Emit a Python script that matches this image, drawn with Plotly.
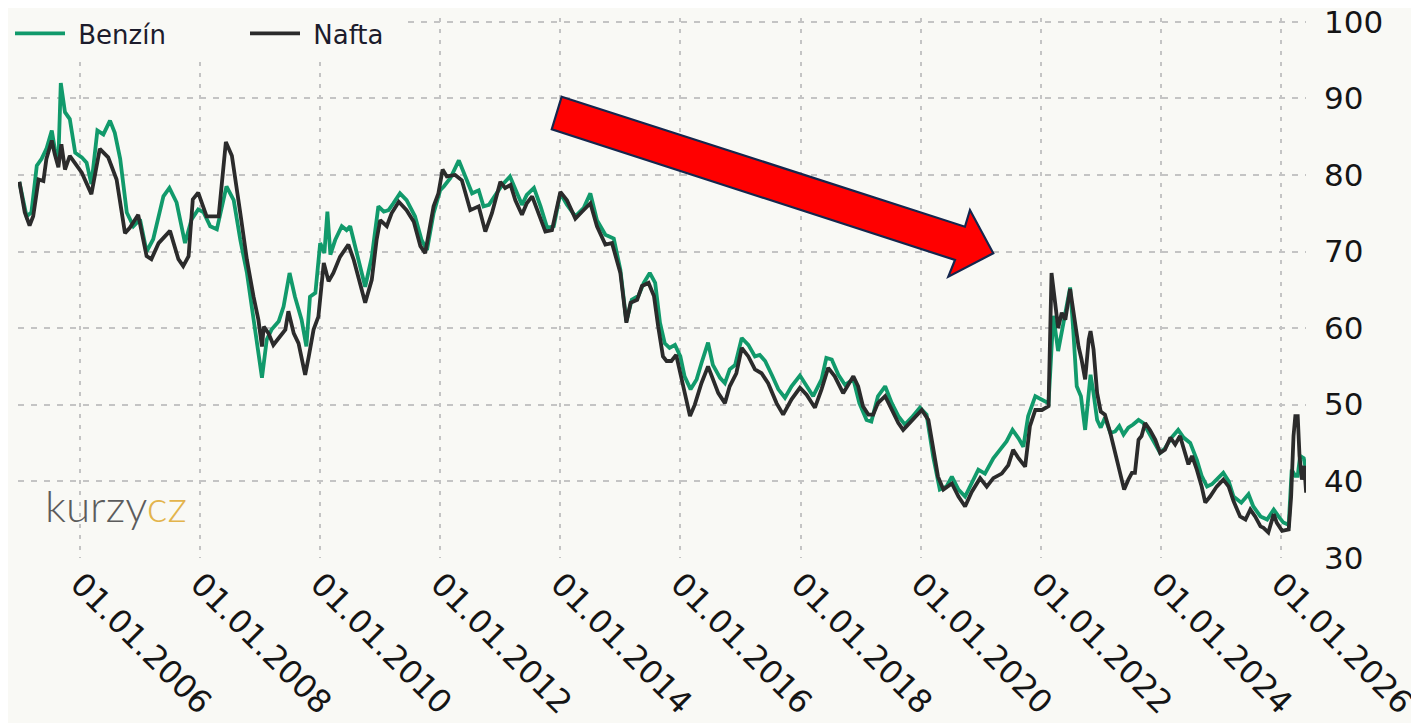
import plotly.graph_objects as go
from datetime import datetime

# ---------------- data (decimal years) ----------------
nafta_t = [
    2004.99, 2005.08, 2005.16, 2005.22, 2005.31, 2005.39, 2005.44, 2005.53, 2005.58, 2005.64, 2005.69, 2005.75, 2005.83, 2005.94,
    2006.03, 2006.19, 2006.33, 2006.47, 2006.61, 2006.75, 2006.83, 2006.97,
    2007.11, 2007.19, 2007.31, 2007.50, 2007.64, 2007.72, 2007.81, 2007.88, 2007.97,
    2008.11, 2008.31, 2008.43, 2008.53, 2008.67, 2008.78, 2008.89, 2008.97,
    2009.03, 2009.06, 2009.14, 2009.22, 2009.33, 2009.42, 2009.47, 2009.56, 2009.64, 2009.75, 2009.81, 2009.89, 2009.97,
    2010.06, 2010.14, 2010.22, 2010.33, 2010.47, 2010.56, 2010.67, 2010.75, 2010.86, 2010.94,
    2011.00, 2011.11, 2011.19, 2011.31, 2011.44, 2011.56, 2011.67, 2011.75, 2011.89, 2011.97,
    2012.04, 2012.11, 2012.25, 2012.36, 2012.50, 2012.64, 2012.75, 2012.86,
    2013.00, 2013.08, 2013.17, 2013.25, 2013.36, 2013.44, 2013.53, 2013.64, 2013.75, 2013.86,
    2014.00, 2014.11, 2014.25, 2014.36, 2014.50, 2014.61, 2014.75, 2014.86,
    2015.00, 2015.10, 2015.17, 2015.28, 2015.36, 2015.47, 2015.56, 2015.63, 2015.71, 2015.77, 2015.85, 2015.93,
    2016.04, 2016.16, 2016.24, 2016.35, 2016.46, 2016.54, 2016.63, 2016.74, 2016.82, 2016.93,
    2017.02, 2017.13, 2017.24, 2017.35, 2017.46, 2017.60, 2017.71, 2017.85, 2017.99,
    2018.10, 2018.24, 2018.35, 2018.46, 2018.57, 2018.71, 2018.88, 2018.96,
    2019.04, 2019.13, 2019.21, 2019.29, 2019.41, 2019.52, 2019.63, 2019.71, 2019.82, 2019.93,
    2020.02, 2020.13, 2020.21, 2020.29, 2020.38, 2020.52, 2020.63, 2020.74, 2020.85, 2020.99,
    2021.10, 2021.21, 2021.35, 2021.46, 2021.54, 2021.63, 2021.74, 2021.82, 2021.91,
    2022.02, 2022.13, 2022.18, 2022.24, 2022.29, 2022.35, 2022.41, 2022.49, 2022.57, 2022.63, 2022.68, 2022.74, 2022.80, 2022.83, 2022.88, 2022.94,
    2023.00, 2023.07, 2023.16, 2023.24, 2023.32, 2023.39, 2023.46, 2023.52, 2023.57, 2023.63, 2023.68, 2023.74, 2023.82, 2023.91, 2023.99,
    2024.07, 2024.16, 2024.24, 2024.32, 2024.41, 2024.46, 2024.52, 2024.60, 2024.68, 2024.74, 2024.82, 2024.93,
    2025.04, 2025.13, 2025.21, 2025.32, 2025.41, 2025.49, 2025.57, 2025.66, 2025.71, 2025.79, 2025.88, 2025.93,
    2026.02, 2026.13, 2026.17, 2026.21, 2026.24, 2026.28, 2026.31, 2026.35, 2026.39, 2026.42,
]
nafta_v = [
    79.1, 75.1, 73.4, 74.6, 79.4, 79.2, 82.1, 84.5, 82.7, 81.0, 84.0, 80.7, 82.5, 81.2,
    80.3, 77.5, 83.4, 82.3, 79.4, 72.4, 73.1, 74.8,
    69.4, 69.0, 71.1, 72.7, 69.0, 68.1, 69.4, 76.8, 77.7,
    74.6, 74.6, 84.3, 82.5, 75.0, 68.9, 64.1, 61.1,
    57.6, 60.2, 59.3, 57.8, 58.9, 59.8, 62.2, 59.3, 58.0, 53.9, 56.3, 59.8, 61.5,
    68.5, 66.1, 67.2, 69.3, 70.9, 68.9, 65.9, 63.3, 66.3, 71.5,
    74.1, 73.3, 75.0, 76.5, 75.4, 73.9, 70.7, 69.8, 75.9, 77.6,
    80.7, 79.8, 80.0, 79.3, 75.4, 75.9, 72.6, 75.0,
    79.1, 78.3, 78.7, 76.7, 74.8, 76.3, 77.2, 75.0, 72.6, 72.8,
    77.8, 76.7, 74.3, 75.2, 76.3, 73.3, 70.9, 71.1,
    67.2, 60.7, 63.3, 63.7, 65.5, 65.9, 64.2, 60.2, 56.3, 55.7, 55.7, 56.5,
    52.4, 48.5, 50.0, 52.8, 55.0, 53.3, 51.5, 50.2, 52.4, 54.1,
    57.4, 56.3, 54.6, 54.1, 52.8, 50.2, 48.7, 50.7, 52.2,
    51.3, 49.6, 52.0, 54.8, 53.7, 51.5, 53.7, 52.4,
    49.8, 48.7, 48.7, 50.2, 51.1, 49.3, 47.6, 46.7, 47.6, 48.5,
    49.3, 48.0, 44.1, 40.6, 38.9, 39.7, 38.0, 36.7, 38.6, 40.4,
    39.3, 40.4, 41.0, 42.1, 44.1, 43.0, 41.9, 47.2, 49.3,
    49.3, 49.8, 67.2, 63.3, 60.0, 62.0, 61.1, 65.1, 61.0, 57.6, 55.9, 53.3, 58.5, 59.6, 57.2, 51.5,
    49.1, 48.7, 46.3, 43.7, 41.1, 38.9, 40.2, 41.1, 41.1, 45.4, 45.9, 47.6, 46.7, 45.4, 43.7,
    44.1, 45.7, 44.8, 45.9, 43.3, 42.2, 43.3, 41.5, 39.3, 37.2, 38.0, 39.3,
    40.2, 39.3, 37.4, 35.4, 35.0, 36.3, 35.4, 34.1, 33.9, 33.3, 35.7, 34.6,
    33.5, 33.7, 38.0, 45.9, 48.5, 48.5, 43.3, 40.2, 42.0, 38.5,
]

benzin_t = [
    2004.99, 2005.11, 2005.19, 2005.28, 2005.36, 2005.44, 2005.53, 2005.58, 2005.64, 2005.68, 2005.75, 2005.83, 2005.92,
    2006.03, 2006.11, 2006.19, 2006.29, 2006.39, 2006.50, 2006.58, 2006.67, 2006.78, 2006.89,
    2007.00, 2007.11, 2007.22, 2007.39, 2007.49, 2007.61, 2007.75, 2007.86, 2007.97,
    2008.06, 2008.17, 2008.28, 2008.44, 2008.56, 2008.67, 2008.78, 2008.89, 2008.97,
    2009.03, 2009.11, 2009.19, 2009.31, 2009.39, 2009.49, 2009.58, 2009.69, 2009.77, 2009.83, 2009.92,
    2010.00, 2010.07, 2010.12, 2010.17, 2010.25, 2010.36, 2010.44, 2010.50, 2010.61, 2010.75, 2010.86, 2010.97,
    2011.06, 2011.14, 2011.22, 2011.33, 2011.44, 2011.58, 2011.69, 2011.78, 2011.89,
    2012.00, 2012.06, 2012.17, 2012.31, 2012.42, 2012.53, 2012.64, 2012.72, 2012.81, 2012.92,
    2013.03, 2013.16, 2013.25, 2013.36, 2013.44, 2013.56, 2013.67, 2013.78, 2013.89,
    2014.00, 2014.11, 2014.25, 2014.39, 2014.50, 2014.61, 2014.75, 2014.89,
    2015.00, 2015.10, 2015.19, 2015.30, 2015.39, 2015.49, 2015.58, 2015.66, 2015.74, 2015.82, 2015.91,
    2016.00, 2016.07, 2016.17, 2016.27, 2016.35, 2016.46, 2016.54, 2016.66, 2016.74, 2016.82, 2016.91,
    2017.02, 2017.13, 2017.24, 2017.32, 2017.41, 2017.52, 2017.63, 2017.74, 2017.85, 2017.99,
    2018.10, 2018.21, 2018.35, 2018.43, 2018.52, 2018.63, 2018.74, 2018.88, 2018.98,
    2019.10, 2019.18, 2019.29, 2019.41, 2019.52, 2019.63, 2019.74, 2019.85, 2019.99,
    2020.10, 2020.21, 2020.32, 2020.43, 2020.52, 2020.63, 2020.74, 2020.85, 2020.96,
    2021.07, 2021.21, 2021.32, 2021.43, 2021.53, 2021.63, 2021.71, 2021.79, 2021.91,
    2022.02, 2022.13, 2022.21, 2022.26, 2022.29, 2022.38, 2022.49, 2022.54, 2022.60, 2022.67, 2022.74, 2022.80, 2022.83, 2022.88, 2022.94,
    2023.00, 2023.07, 2023.16, 2023.24, 2023.31, 2023.38, 2023.46, 2023.54, 2023.63, 2023.71, 2023.79, 2023.88, 2023.99,
    2024.07, 2024.18, 2024.29, 2024.38, 2024.49, 2024.60, 2024.68, 2024.77, 2024.85, 2024.96,
    2025.04, 2025.13, 2025.21, 2025.34, 2025.46, 2025.54, 2025.66, 2025.77, 2025.88, 2025.96,
    2026.04, 2026.13, 2026.18, 2026.24, 2026.28, 2026.32, 2026.38, 2026.42,
]
benzin_v = [
    79.1, 74.6, 75.1, 81.2, 82.1, 83.4, 85.8, 83.4, 82.1, 92.0, 88.2, 87.3, 82.9,
    82.3, 81.6, 78.8, 85.8, 85.3, 87.1, 85.5, 82.1, 75.1, 73.3,
    74.2, 70.0, 71.6, 77.2, 78.3, 76.4, 71.1, 74.2, 75.5,
    75.1, 73.3, 72.9, 78.5, 76.7, 71.5, 67.2, 61.1, 56.7,
    53.5, 58.5, 59.8, 60.9, 62.8, 67.2, 64.1, 61.1, 57.6, 64.1, 64.6,
    71.1, 69.8, 75.2, 69.6, 71.5, 73.3, 72.8, 73.3, 69.8, 65.4, 69.3, 75.9,
    75.2, 75.4, 76.3, 77.6, 76.7, 74.6, 71.5, 70.2, 75.0,
    78.0, 78.5, 79.6, 81.9, 79.8, 77.6, 78.0, 75.9, 76.1, 77.4,
    78.7, 79.8, 78.0, 76.1, 77.4, 78.3, 75.9, 73.1, 73.3,
    77.6, 76.1, 74.6, 75.7, 77.6, 74.1, 72.2, 71.7,
    67.6, 60.9, 63.7, 64.2, 65.9, 67.2, 65.9, 60.7, 58.0, 57.4, 57.8,
    56.3, 53.7, 52.0, 53.3, 55.4, 58.1, 55.2, 53.5, 52.8, 54.6, 55.2,
    58.7, 57.8, 56.3, 56.5, 55.7, 53.9, 52.0, 50.9, 52.4, 53.8,
    52.4, 51.1, 53.3, 56.1, 55.9, 53.9, 52.6, 53.3, 50.2,
    48.0, 47.8, 51.1, 52.4, 50.2, 48.5, 47.4, 48.3, 49.6,
    48.7, 43.2, 38.9, 39.3, 40.6, 38.9, 38.0, 39.7, 41.5,
    41.0, 43.0, 44.1, 45.2, 46.7, 45.6, 44.5, 48.5, 51.1,
    50.7, 50.2, 61.6, 59.0, 57.0, 60.7, 65.3, 60.0, 52.4, 51.1, 46.7, 51.5, 53.9, 51.5, 48.0,
    47.0, 48.3, 46.3, 46.5, 47.2, 46.1, 47.0, 47.4, 48.0, 47.6, 46.5, 45.2, 43.7,
    44.3, 45.7, 46.7, 45.7, 45.0, 42.8, 40.7, 39.3, 39.6, 40.4,
    41.1, 40.0, 38.0, 37.2, 38.3, 36.7, 35.4, 35.0, 36.3, 35.4,
    34.6, 34.3, 41.5, 40.7, 40.7, 43.3, 43.0, 41.5,
]

tick_years = [2006, 2008, 2010, 2012, 2014, 2016, 2018, 2020, 2022, 2024, 2026]
y_ticks = [30, 40, 50, 60, 70, 80, 90, 100]
x_range_years = [2004.967, 2026.418]
y_range = [29.97, 100.5]


def to_date(y):
    yr = int(y)
    start = datetime(yr, 1, 1)
    end = datetime(yr + 1, 1, 1)
    return start + (end - start) * (y - yr)


BG = "#f9f9f5"
GREEN = "#119a6b"
DARK = "#2b2b2b"
GRID = "#c4c4c4"
TXT = "#151515"
FONT = "DejaVu Sans"
NBSP = "\u00a0"

fig = go.Figure()
fig.add_trace(go.Scatter(
    x=[to_date(t) for t in benzin_t], y=benzin_v, name=NBSP + "Benzín",
    mode="lines", line=dict(color=GREEN, width=3.8), legendwidth=170))
fig.add_trace(go.Scatter(
    x=[to_date(t) for t in nafta_t], y=nafta_v, name=NBSP + "Nafta",
    mode="lines", line=dict(color=DARK, width=3.8), legendwidth=95))

# page body has an 8px margin; plot area in window pixels: x 18..1306, y 18..558
OFF = 8
def px(xp, yp):
    return (xp - 18) / 1288.0, (558 - yp) / 540.0

arrow_px = [(561.7, 96.7), (965, 226.7), (970, 210), (993.3, 253.3),
            (948.3, 276.7), (955, 260), (551.7, 129.3)]
pts = [px(a, b) for a, b in arrow_px]
path = "M " + " L ".join(f"{x:.4f},{y:.4f}" for x, y in pts) + " Z"

fig.update_layout(
    width=1419, height=723,
    margin=dict(l=18 - OFF, r=1419 - 1306 + OFF, t=18 - OFF, b=723 - 558 + OFF, autoexpand=False),
    paper_bgcolor=BG, plot_bgcolor="rgba(0,0,0,0)",
    showlegend=True,
    legend=dict(orientation="h", x=px(10, 0)[0], y=px(0, 10)[1], xanchor="left", yanchor="top",
                bgcolor=BG, font=dict(family=FONT, size=26, color="#1c1c2c"),
                itemwidth=50, traceorder="normal"),
    xaxis=dict(type="date", range=[to_date(x_range_years[0]), to_date(x_range_years[1])],
               tickvals=[f"{y}-01-01" for y in tick_years], tickformat="%d.%m.%Y",
               tickangle=45, tickfont=dict(family=FONT, size=32, color=TXT),
               showgrid=True, gridcolor=GRID, griddash="4px,7px", gridwidth=1.6,
               zeroline=False, showline=False, ticks="", automargin=False,
               ticklabeloverflow="allow"),
    yaxis=dict(side="right", range=y_range, tickvals=y_ticks,
               tickfont=dict(family=FONT, size=31, color=TXT),
               showgrid=True, gridcolor=GRID, griddash="6px,7px", gridwidth=1.6,
               zeroline=False, showline=False, ticks="", ticklabelstandoff=17,
               automargin=False, ticklabeloverflow="allow"),
    shapes=[
        dict(type="path", xref="paper", yref="paper", path=path,
             fillcolor="#ff0000", line=dict(color="#15264d", width=2.2), layer="above"),
    ],
    annotations=[
        dict(xref="paper", yref="paper", x=px(43, 0)[0], y=px(0, 505)[1],
             xanchor="left", yanchor="middle", showarrow=False,
             text="<span style='color:#5c5c5c'>kurzy</span><span style='color:#e3b44c'>cz</span>",
             font=dict(family="Lato", size=44, weight=300)),
    ],
)

fig.write_html("out.html")
